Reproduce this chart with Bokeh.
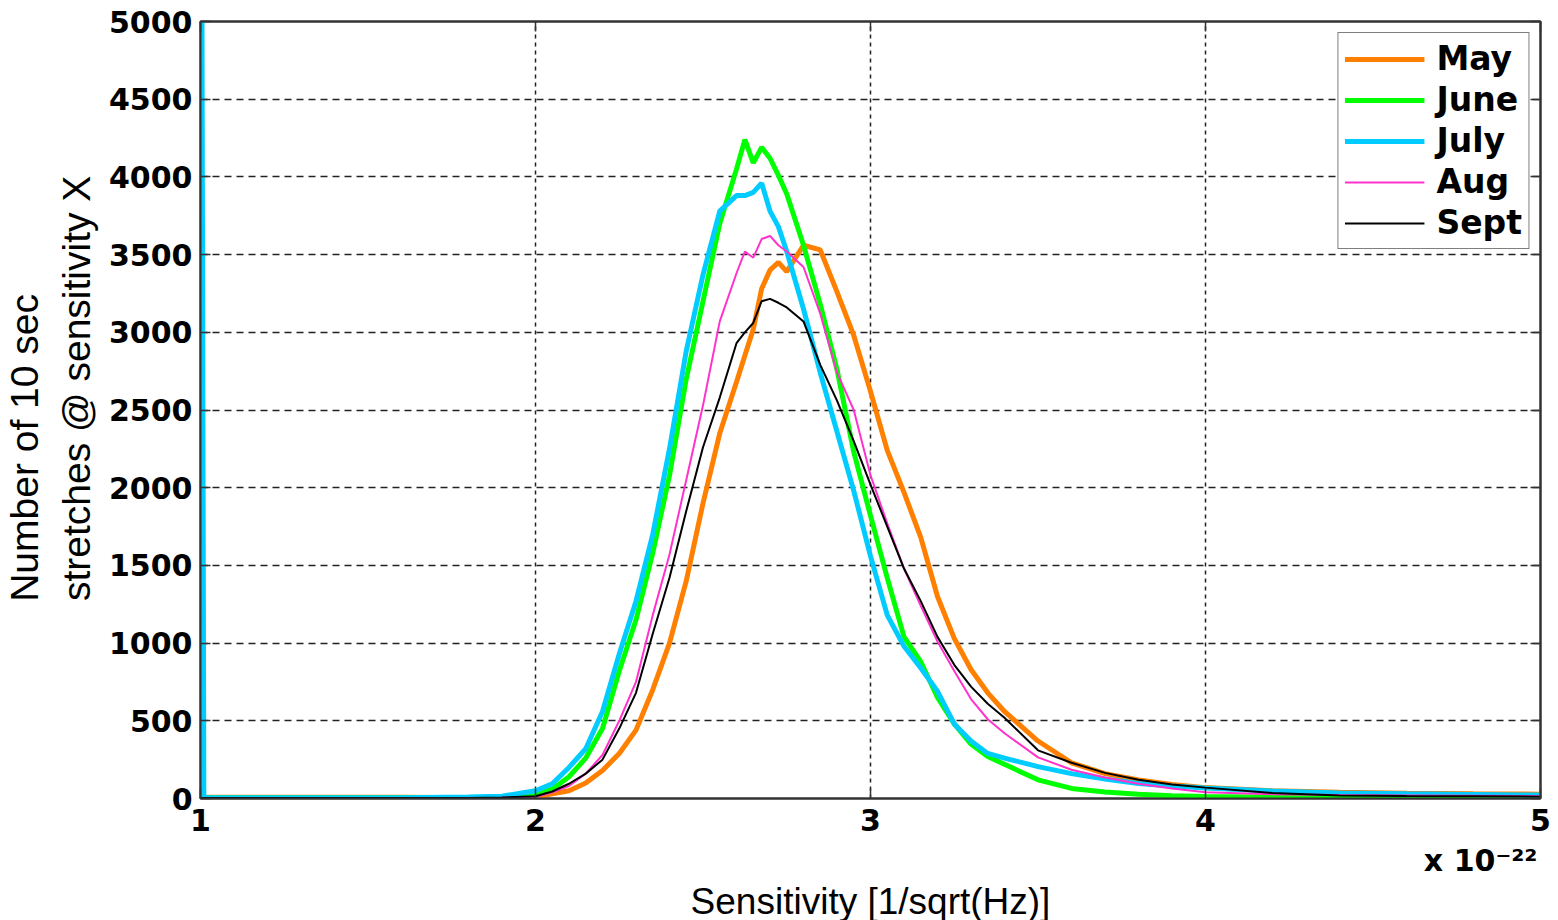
from bokeh.plotting import figure
from bokeh.models import FixedTicker, Legend, LegendItem, LinearAxis, Range1d, Title
from bokeh.embed import file_html
from bokeh.resources import INLINE

# Sensitivity bins (x 1e-22 1/sqrt(Hz))
sens = [1.0, 1.01, 1.2, 1.4, 1.6, 1.8, 1.9, 2.0, 2.05, 2.1, 2.15, 2.2, 2.25, 2.3, 2.35,
        2.4, 2.45, 2.5, 2.55, 2.6, 2.625, 2.65, 2.675, 2.7, 2.725, 2.75, 2.8, 2.85, 2.9,
        2.95, 3.0, 3.05, 3.1, 3.15, 3.2, 3.25, 3.3, 3.35, 3.4, 3.5, 3.6, 3.7, 3.8, 3.9,
        4.0, 4.2, 4.4, 4.6, 4.8, 5.0]

may = [8, 8, 8, 8, 8, 5, 5, 10, 30, 50, 100, 180, 290, 440, 700,
       1000, 1400, 1900, 2350, 2680, 2850, 3020, 3280, 3400, 3450, 3390, 3560, 3530, 3260,
       2980, 2620, 2240, 1970, 1680, 1300, 1030, 830, 680, 560, 370, 230, 160, 120, 90,
       70, 50, 40, 34, 30, 28]

june = [5, 5, 5, 5, 5, 5, 10, 25, 60, 140, 260, 450, 820, 1150, 1580,
        2080, 2700, 3200, 3700, 4050, 4240, 4090, 4190, 4120, 4010, 3890, 3560, 3180, 2760,
        2230, 1820, 1420, 1040, 880, 650, 480, 350, 270, 220, 120, 65, 42, 28, 18,
        13, 8, 5, 4, 3, 2]

july = [9000, 5, 5, 5, 5, 10, 15, 50, 95, 200, 320, 560, 930, 1270, 1700,
        2250, 2880, 3370, 3780, 3880, 3880, 3900, 3960, 3780, 3680, 3520, 3150, 2740, 2360,
        1980, 1560, 1180, 980, 840, 690, 480, 370, 290, 260, 205, 160, 125, 97, 80,
        68, 48, 36, 30, 26, 22]

aug = [3, 3, 3, 3, 3, 3, 5, 10, 40, 80, 160, 280, 500, 750, 1180,
       1570, 2050, 2530, 3070, 3380, 3520, 3480, 3600, 3620, 3560, 3520, 3420, 3120, 2740,
       2500, 2080, 1770, 1480, 1240, 1010, 820, 640, 510, 420, 265, 185, 135, 95, 65,
       40, 28, 22, 20, 18, 15]

sept = [3, 3, 3, 3, 3, 3, 6, 15, 45, 95, 160, 250, 450, 680, 1060,
        1420, 1850, 2260, 2580, 2930, 3000, 3060, 3200, 3215, 3190, 3160, 3070, 2790, 2560,
        2300, 2020, 1750, 1480, 1270, 1040, 860, 720, 610, 520, 310, 230, 165, 120, 90,
        70, 35, 20, 16, 15, 12]

months = ["May", "June", "July", "Aug", "Sept"]
series = [may, june, july, aug, sept]
colors = ["#FF8000", "#00FF00", "#00CCFF", "#FF33CC", "#000000"]
widths = [5, 5, 5, 2, 2]

x_ticks = [1, 2, 3, 4, 5]
y_ticks = [0, 500, 1000, 1500, 2000, 2500, 3000, 3500, 4000, 4500, 5000]

p = figure(width=1558, height=920, x_range=Range1d(1, 5), y_range=Range1d(0, 5000),
           output_backend="svg", toolbar_location=None,
           min_border_left=200, min_border_right=18, min_border_top=21, min_border_bottom=122,
           background_fill_color="white", border_fill_color="white")

items = []
for name, vals, c, w in zip(months, series, colors, widths):
    r = p.line(sens, vals, line_color=c, line_width=w)
    items.append(LegendItem(label=name, renderers=[r]))

tick_font = "DejaVu Sans"
for ax in [p.xaxis[0], p.yaxis[0]]:
    ax.major_label_text_font = tick_font
    ax.major_label_text_font_style = "bold"
    ax.major_label_text_font_size = "30px"
    ax.major_label_text_color = "black"
    ax.major_tick_in = 10
    ax.major_tick_out = 0
    ax.minor_tick_line_color = None
    ax.axis_line_width = 2
    ax.axis_line_color = "#333333"
    ax.major_tick_line_color = "#333333"
    ax.major_tick_line_width = 1.5
    ax.axis_label_text_font = "Liberation Sans"
    ax.axis_label_text_font_style = "normal"
    ax.axis_label_text_color = "black"

p.xaxis[0].ticker = FixedTicker(ticks=x_ticks)
p.yaxis[0].ticker = FixedTicker(ticks=y_ticks)
p.xaxis[0].major_label_standoff = 10
p.yaxis[0].major_label_standoff = 8

nb = "\u00a0"
ylab_1 = "Number of 10 sec"
ylab_2 = "stretches @ sensitivity X"
p.yaxis[0].axis_label = nb * 4 + ylab_1 + nb * 11 + "\n" + nb * 4 + ylab_2
p.yaxis[0].axis_label_text_font_size = "39px"
p.yaxis[0].axis_label_standoff = 8

for loc, tk in [("right", y_ticks), ("above", x_ticks)]:
    ax = LinearAxis(ticker=FixedTicker(ticks=tk), major_label_text_font_size="0px",
                    major_tick_in=10, major_tick_out=0, minor_tick_line_color=None,
                    axis_line_width=2, axis_line_color="#333333",
                    major_tick_line_color="#333333", major_tick_line_width=1.5,
                    major_label_standoff=0)
    p.add_layout(ax, loc)

# exponent note and axis title, stacked below the x axis
exp_title = Title(text="x 10\u207b\u00b2\u00b2", align="right", text_font=tick_font,
                  text_font_style="bold", text_font_size="30px", text_color="black",
                  standoff=14, offset=3)
p.add_layout(exp_title, "below")
x_title = Title(text="Sensitivity [1/sqrt(Hz)]", align="center", text_font="Liberation Sans",
                text_font_style="normal", text_font_size="37px", text_color="black",
                standoff=-12, offset=5)
p.add_layout(x_title, "below")

p.xgrid.ticker = FixedTicker(ticks=x_ticks)
p.ygrid.ticker = FixedTicker(ticks=y_ticks)
p.xgrid.grid_line_color = "#222222"
p.xgrid.grid_line_dash = "4 4"
p.xgrid.grid_line_width = 1.5
p.ygrid.grid_line_color = "#222222"
p.ygrid.grid_line_dash = "7 5"
p.ygrid.grid_line_width = 1.5

p.outline_line_color = "#333333"
p.outline_line_width = 2

legend = Legend(items=items, location="top_right")
legend.margin = 11
legend.padding = 6
legend.spacing = 2
legend.glyph_width = 80
legend.glyph_height = 30
legend.label_height = 30
legend.label_standoff = 12
legend.label_text_font = tick_font
legend.label_text_font_style = "bold"
legend.label_text_font_size = "33px"
legend.label_text_color = "black"
legend.border_line_color = "black"
legend.border_line_width = 1.5
legend.background_fill_alpha = 1
p.add_layout(legend)

open("out.html", "w").write(file_html(p, INLINE))
